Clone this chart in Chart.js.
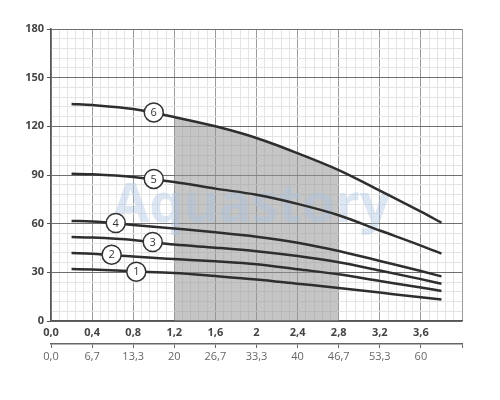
<!DOCTYPE html>
<html>
<head>
<meta charset="utf-8">
<script src="https://cdn.jsdelivr.net/npm/chart.js@4"></script>
<style>
  body { margin: 0; background: #fff; }
</style>
</head>
<body>
<canvas id="pumpChart" width="500" height="400"></canvas>
<script>
// flow (m3/h) and head (m)
var flowX = [0.2, 0.4, 0.8, 1.2, 1.6, 2.0, 2.4, 2.8, 3.2, 3.6, 3.8];
var curve1 = [32.1, 31.7, 30.6, 29.6, 27.7, 25.6, 23.0, 20.4, 17.5, 14.6, 13.2];
var curve2 = [41.9, 41.5, 39.7, 38.2, 36.8, 35.0, 31.9, 28.8, 24.7, 20.6, 18.5];
var curve3 = [51.8, 51.4, 49.9, 47.1, 45.2, 43.0, 40.0, 36.2, 31.1, 25.8, 23.0];
var curve4 = [61.7, 61.3, 59.2, 57.0, 54.7, 52.0, 48.3, 43.2, 37.0, 30.8, 27.5];
var curve5 = [90.8, 90.4, 88.8, 85.7, 81.6, 77.8, 72.2, 65.2, 55.8, 46.5, 41.5];
var curve6 = [133.8, 133.1, 130.7, 125.7, 120.0, 112.8, 103.4, 93.0, 80.4, 67.4, 60.6];

// working range (shaded)
var rangeFrom = 1.2;
var rangeTo = 2.8;

// circled curve numbers
var labelNames = ['1', '2', '3', '4', '5', '6'];
var labelX = [0.83, 0.59, 0.99, 0.63, 1.0, 1.0];
var labelY = [30.4, 40.9, 48.7, 60.4, 87.6, 128.6];

var xTickLabels = ['0,0', '0,4', '0,8', '1,2', '1,6', '2', '2,4', '2,8', '3,2', '3,6'];
var x2TickLabels = ['0,0', '6,7', '13,3', '20', '26,7', '33,3', '40', '46,7', '53,3', '60'];

function points(ys) {
    return flowX.map(function (x, i) { return { x: x, y: ys[i] }; });
}

var shadePoints = points(curve6).filter(function (p) {
    return p.x >= rangeFrom && p.x <= rangeTo;
});

function curve(ys) {
    return {
        data: points(ys),
        borderColor: '#2e2e2e',
        borderWidth: 2.5,
        pointRadius: 0,
        fill: false,
        cubicInterpolationMode: 'monotone',
        order: 1
    };
}

var watermark = {
    id: 'watermark',
    afterDatasetDraw: function (chart, args) {
        if (args.index !== 6) return;
        var ctx = chart.ctx, a = chart.chartArea;
        ctx.save();
        ctx.font = 'bold 54px "Open Sans"';
        ctx.fillStyle = 'rgba(170, 195, 225, 0.4)';
        ctx.textAlign = 'center';
        ctx.textBaseline = 'alphabetic';
        ctx.fillText('Aquastory', a.left + a.width * 0.487, a.top + a.height * 0.66);
        ctx.restore();
    }
};

var circleText = {
    id: 'circleText',
    afterDatasetsDraw: function (chart) {
        var ctx = chart.ctx;
        var meta = chart.getDatasetMeta(7);
        ctx.save();
        ctx.font = '11px "Open Sans"';
        ctx.fillStyle = '#333';
        ctx.textAlign = 'center';
        ctx.textBaseline = 'middle';
        meta.data.forEach(function (el, i) {
            ctx.fillText(labelNames[i], el.x, el.y + 0.5);
        });
        ctx.restore();
    }
};

var tickFont = { family: 'Open Sans', size: 11, weight: 'bold' };

new Chart(document.getElementById('pumpChart').getContext('2d'), {
    type: 'line',
    data: {
        datasets: [
            curve(curve1), curve(curve2), curve(curve3),
            curve(curve4), curve(curve5), curve(curve6),
            {
                data: shadePoints,
                borderWidth: 0,
                borderColor: 'rgba(0,0,0,0)',
                backgroundColor: 'rgba(150, 150, 150, 0.55)',
                pointRadius: 0,
                fill: 'origin',
                cubicInterpolationMode: 'monotone',
                order: 3
            },
            {
                type: 'scatter',
                data: labelX.map(function (x, i) { return { x: x, y: labelY[i] }; }),
                pointRadius: 9.5,
                pointBackgroundColor: '#fff',
                pointBorderColor: '#333',
                pointBorderWidth: 1.5,
                showLine: false,
                order: 0
            }
        ]
    },
    options: {
        responsive: false,
        animation: false,
        layout: { padding: { top: 29, right: 38, bottom: 34, left: 0 } },
        plugins: {
            legend: { display: false },
            tooltip: { enabled: false }
        },
        scales: {
            x: {
                type: 'linear',
                position: 'bottom',
                weight: 0,
                min: 0,
                max: 4,
                afterFit: function (s) { s.height = 23; },
                ticks: {
                    stepSize: 0.08,
                    maxTicksLimit: 60,
                    autoSkip: false,
                    maxRotation: 0,
                    padding: 5,
                    color: '#444',
                    font: tickFont,
                    callback: function (v, i) {
                        return i % 5 === 0 && xTickLabels[i / 5] ? xTickLabels[i / 5] : '';
                    }
                },
                grid: {
                    drawTicks: false,
                    color: function (c) { return c.index % 5 === 0 ? '#9a9a9a' : '#e4e4e4'; }
                },
                border: { color: '#555', width: 1.5 }
            },
            x2: {
                type: 'linear',
                position: 'bottom',
                weight: 1,
                min: 0,
                max: 4,
                afterFit: function (s) { s.height = 22; },
                ticks: {
                    stepSize: 0.4,
                    autoSkip: false,
                    maxRotation: 0,
                    padding: 2,
                    color: '#666',
                    font: { family: 'Open Sans', size: 11 },
                    callback: function (v, i) { return x2TickLabels[i] || ''; }
                },
                grid: {
                    drawOnChartArea: false,
                    tickLength: 4,
                    tickColor: '#666',
                    color: '#666'
                },
                border: { color: '#666', width: 1.5 }
            },
            y: {
                min: 0,
                max: 180,
                afterFit: function (s) { s.width = 51; },
                ticks: {
                    stepSize: 6,
                    maxTicksLimit: 40,
                    autoSkip: false,
                    padding: 3,
                    color: '#444',
                    font: tickFont,
                    callback: function (v, i) { return i % 5 === 0 ? v : ''; }
                },
                grid: {
                    tickLength: 4,
                    color: function (c) { return c.index % 5 === 0 ? '#707070' : '#e4e4e4'; },
                    tickColor: function (c) { return c.index % 5 === 0 ? '#555' : 'rgba(0,0,0,0)'; }
                },
                border: { color: '#555', width: 1.5 }
            }
        }
    },
    plugins: [watermark, circleText]
});
</script>
</body>
</html>
